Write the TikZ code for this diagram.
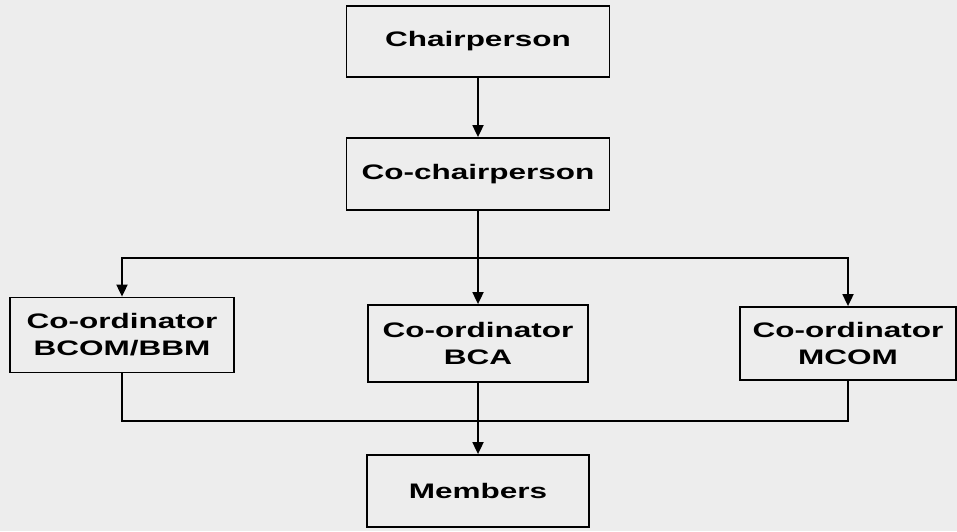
\documentclass[tikz,border=0pt]{standalone}
\usepackage{fontspec}
\setmainfont{Liberation Sans}[FakeStretch=1.5]
\usetikzlibrary{arrows.meta}
\definecolor{paper}{HTML}{EDEDED}
\begin{document}
\begin{tikzpicture}[x=1pt,y=-1pt,
  box/.style={draw=black, line width=1.8pt, align=center, inner sep=0pt,
    font=\fontsize{21}{27}\selectfont\bfseries},
  conn/.style={line width=1.8pt},
  arr/.style={conn,-{Triangle[length=12pt,width=11pt]}}]
\fill[paper] (0,0) rectangle (957,531);
\useasboundingbox (0,0) rectangle (957,531);
\node[box, minimum width=263pt, minimum height=71pt] (chair) at (478,41.5) {Chairperson};
\node[box, minimum width=263pt, minimum height=72pt] (cochair) at (478,174) {Co-chairperson};
\node[box, minimum width=224pt, minimum height=75pt] (left) at (122,335) {Co-ordinator\\BCOM/BBM};
\node[box, minimum width=220pt, minimum height=77pt] (mid) at (478,343.5) {Co-ordinator\\BCA};
\node[box, minimum width=216pt, minimum height=73pt] (right) at (848,343.5) {Co-ordinator\\MCOM};
\node[box, minimum width=222pt, minimum height=72pt] (members) at (478,491) {Members};
\coordinate (j) at (478,258);
\coordinate (k) at (478,421);
\draw[arr] (chair) -- (cochair);
\draw[conn] (cochair.south) -- (j);
\draw[arr] (j) -| (left.north);
\draw[arr] (j) -| (right.north);
\draw[arr] (j) -- (mid.north);
\draw[conn] (left.south) |- (k) -| (right.south);
\draw[arr] (mid.south) -- (members.north);
\end{tikzpicture}
\end{document}
